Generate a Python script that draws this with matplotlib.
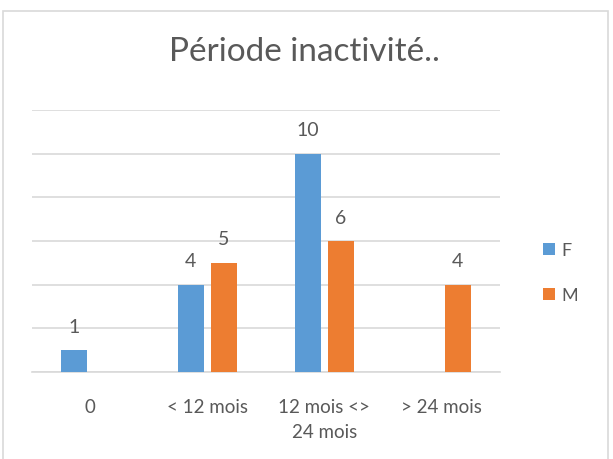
import numpy as np
import matplotlib
matplotlib.use('Agg')
from matplotlib import pyplot as plt
from matplotlib.patches import Rectangle

plt.rcParams['font.family'] = ['Lato', 'DejaVu Sans']

categories = ['0', '< 12 mois', '12 mois <>\n24 mois', '> 24 mois']
series_names = ['F', 'M']
f_values = [1, 4, 10, None]
m_values = [None, 5, 6, 4]

BLUE = '#5B9BD5'
ORANGE = '#ED7D31'
GRID = '#d9d9d9'
TEXT = '#595959'

fig = plt.figure(figsize=(6.13, 4.6), dpi=100)
ax = fig.add_axes([0.052, 0.189, 0.7635, 0.5696])

# cadre du graphique
fig.patches.append(Rectangle((3 / 613, -0.1), 605 / 613, 1.1 - 12 / 460,
                             transform=fig.transFigure, fill=False,
                             edgecolor=GRID, linewidth=1.2))

x = np.arange(len(categories))
width = 0.222
offset = 0.141

handles = []
for vals, col, off, name in [(f_values, BLUE, -offset, 'F'),
                             (m_values, ORANGE, offset, 'M')]:
    xs = [xi + off for xi, v in zip(x, vals) if v is not None]
    ys = [v for v in vals if v is not None]
    bars = ax.bar(xs, ys, width=width, color=col, label=name, zorder=3)
    handles.append(bars)
    for bx, by in zip(xs, ys):
        ax.text(bx, by + 1.1, str(by), ha='center', va='center',
                fontsize=14, color=TEXT)

ax.set_xlim(-0.5, 3.5)
ax.set_ylim(0, 12)
ax.set_yticks(np.arange(0, 13, 2))
ax.yaxis.grid(True, color=GRID, linewidth=1.2, zorder=0)
ax.tick_params(axis='y', left=False, labelleft=False)
ax.tick_params(axis='x', bottom=False, pad=15)
ax.set_xticks(x)
ax.set_xticklabels(categories, fontsize=13.5, color=TEXT, linespacing=1.6)
for s in ['top', 'right', 'left']:
    ax.spines[s].set_visible(False)
ax.spines['bottom'].set_color(GRID)
ax.spines['bottom'].set_linewidth(1.2)

fig.text(0.496, 0.887, 'Période inactivité..', ha='center', va='center',
         fontsize=24, color=TEXT)

fig.legend(handles=handles, labels=series_names, loc='center left',
           bbox_to_anchor=(0.86, 0.405), frameon=False, fontsize=13,
           handlelength=0.65, handleheight=0.65, handletextpad=0.35,
           labelspacing=1.6, labelcolor=TEXT)

fig.savefig('out.png', dpi=100)
